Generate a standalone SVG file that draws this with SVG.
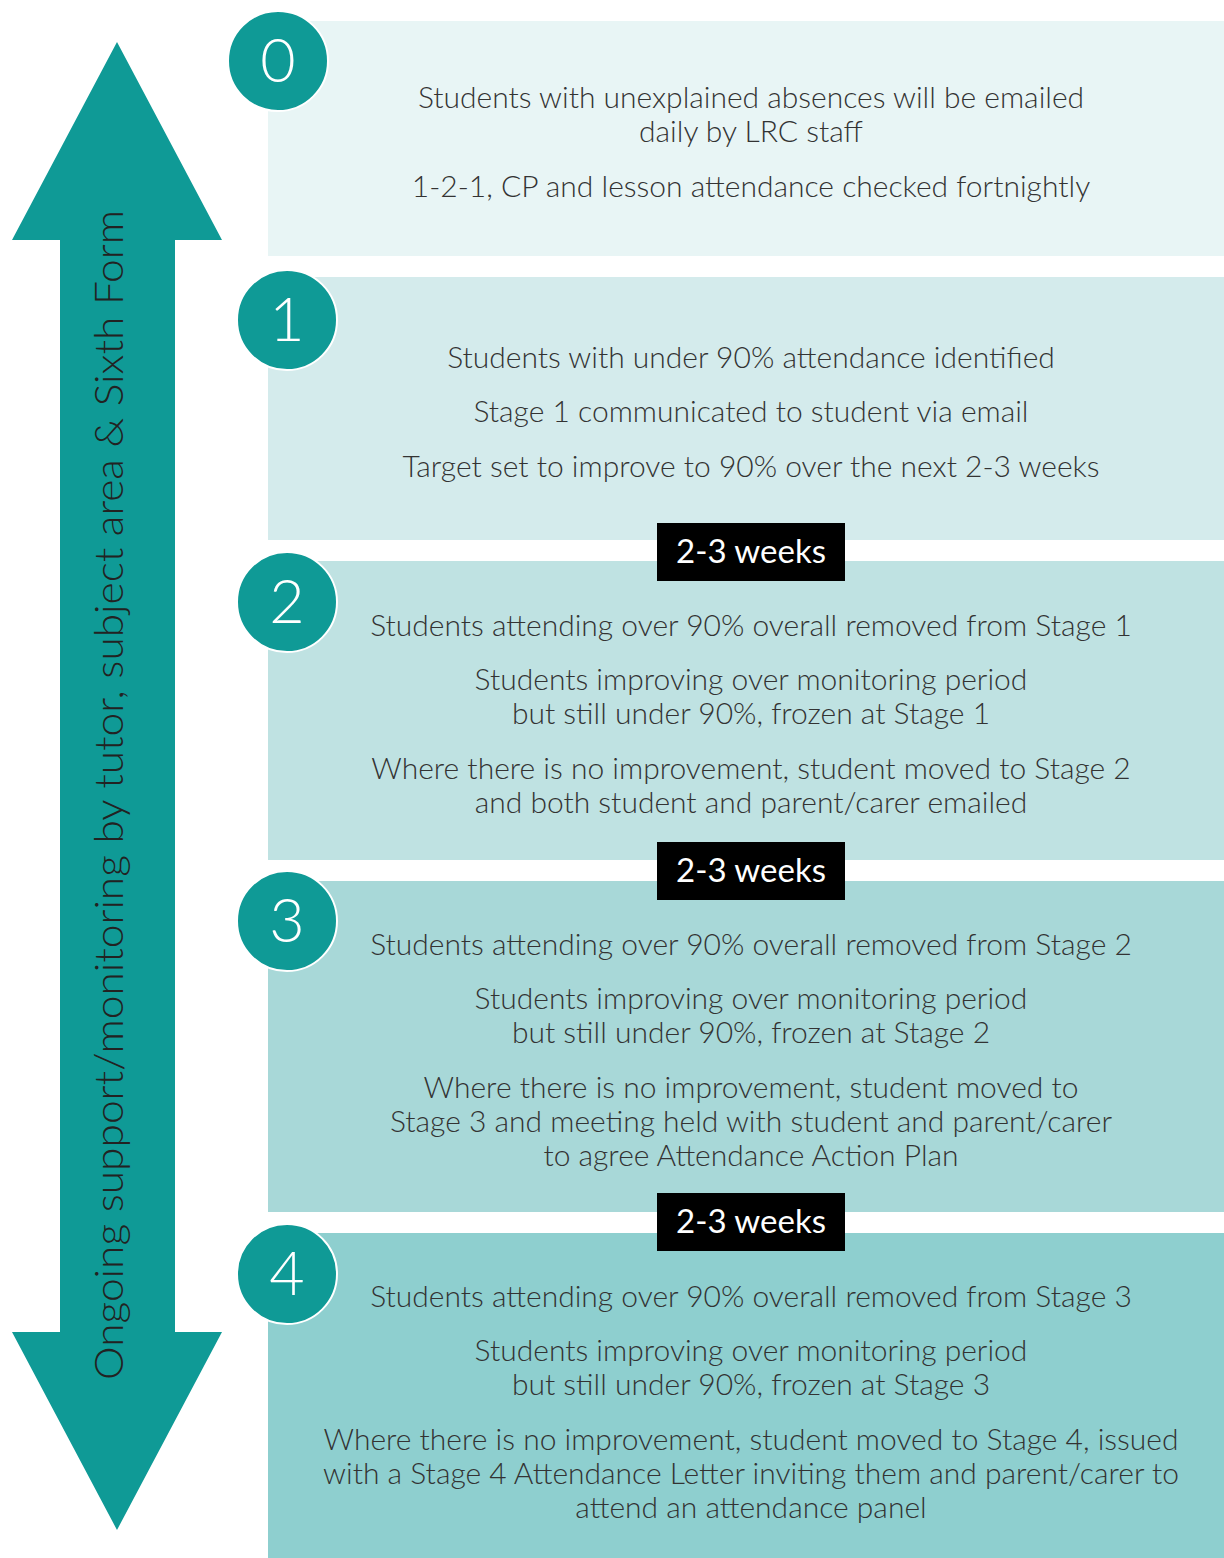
<svg xmlns="http://www.w3.org/2000/svg" width="1224" height="1558" viewBox="0 0 1224 1558">
<style>
.t{font-family:Lato,"Open Sans","Liberation Sans",sans-serif;font-weight:300;font-size:30px;fill:#333;text-anchor:middle}
.n{font-family:Lato,"Open Sans","Liberation Sans",sans-serif;font-weight:300;font-size:61px;fill:#fff;text-anchor:middle}
.w{font-family:Lato,"Open Sans","Liberation Sans",sans-serif;font-weight:400;font-size:33px;fill:#fff;text-anchor:middle}
.c{fill:#0f9a96;stroke:#fff;stroke-width:2}
.b{fill:#000}
</style>
<rect width="1224" height="1558" fill="#fff"/>
<g id="arrow">
<polygon points="117,42 222,240 175,240 175,1332 222,1332 117,1530 12,1332 60,1332 60,240 12,240" fill="#0f9a96"/>
<text transform="translate(123,795) rotate(-90)" style="font-family:Lato,'Open Sans','Liberation Sans',sans-serif;font-weight:300;font-size:39px;fill:#222;text-anchor:middle" textLength="1170" lengthAdjust="spacingAndGlyphs">Ongoing support/monitoring by tutor, subject area &amp; Sixth Form</text>
</g>
<g id="stage0">
<rect x="268" y="21" width="956" height="235" fill="#e8f5f5"/>
<circle class="c" cx="278" cy="61" r="50"/>
<text class="n" x="278" y="82">0</text>
<text class="t" x="751" y="108">Students with unexplained absences will be emailed</text>
<text class="t" x="751" y="142">daily by LRC staff</text>
<text class="t" x="751" y="197">1-2-1, CP and lesson attendance checked fortnightly</text>
</g>
<g id="stage1">
<rect x="268" y="277" width="956" height="263" fill="#d4ebec"/>
<circle class="c" cx="287" cy="320" r="50"/>
<text class="n" x="287" y="341">1</text>
<text class="t" x="751" y="368">Students with under 90% attendance identified</text>
<text class="t" x="751" y="422">Stage 1 communicated to student via email</text>
<text class="t" x="751" y="477">Target set to improve to 90% over the next 2-3 weeks</text>
</g>
<g id="stage2">
<rect x="268" y="561" width="956" height="299" fill="#bfe2e2"/>
<circle class="c" cx="287" cy="602" r="50"/>
<text class="n" x="287" y="623">2</text>
<text class="t" x="751" y="636">Students attending over 90% overall removed from Stage 1</text>
<text class="t" x="751" y="690">Students improving over monitoring period</text>
<text class="t" x="751" y="724">but still under 90%, frozen at Stage 1</text>
<text class="t" x="751" y="779">Where there is no improvement, student moved to Stage 2</text>
<text class="t" x="751" y="813">and both student and parent/carer emailed</text>
</g>
<g id="stage3">
<rect x="268" y="881" width="956" height="331" fill="#a8d8d8"/>
<circle class="c" cx="287" cy="921" r="50"/>
<text class="n" x="287" y="942">3</text>
<text class="t" x="751" y="955">Students attending over 90% overall removed from Stage 2</text>
<text class="t" x="751" y="1009">Students improving over monitoring period</text>
<text class="t" x="751" y="1043">but still under 90%, frozen at Stage 2</text>
<text class="t" x="751" y="1098">Where there is no improvement, student moved to</text>
<text class="t" x="751" y="1132">Stage 3 and meeting held with student and parent/carer</text>
<text class="t" x="751" y="1166">to agree Attendance Action Plan</text>
</g>
<g id="stage4">
<rect x="268" y="1233" width="956" height="325" fill="#8ecfcf"/>
<circle class="c" cx="287" cy="1274" r="50"/>
<text class="n" x="287" y="1295">4</text>
<text class="t" x="751" y="1307">Students attending over 90% overall removed from Stage 3</text>
<text class="t" x="751" y="1361">Students improving over monitoring period</text>
<text class="t" x="751" y="1395">but still under 90%, frozen at Stage 3</text>
<text class="t" x="751" y="1450">Where there is no improvement, student moved to Stage 4, issued</text>
<text class="t" x="751" y="1484">with a Stage 4 Attendance Letter inviting them and parent/carer to</text>
<text class="t" x="751" y="1518">attend an attendance panel</text>
</g>
<g id="connectors">
<g id="wk1"><rect class="b" x="657" y="523" width="188" height="58"/><text class="w" x="751" y="563">2-3 weeks</text></g>
<g id="wk2"><rect class="b" x="657" y="842" width="188" height="58"/><text class="w" x="751" y="882">2-3 weeks</text></g>
<g id="wk3"><rect class="b" x="657" y="1193" width="188" height="58"/><text class="w" x="751" y="1233">2-3 weeks</text></g>
</g>
</svg>
